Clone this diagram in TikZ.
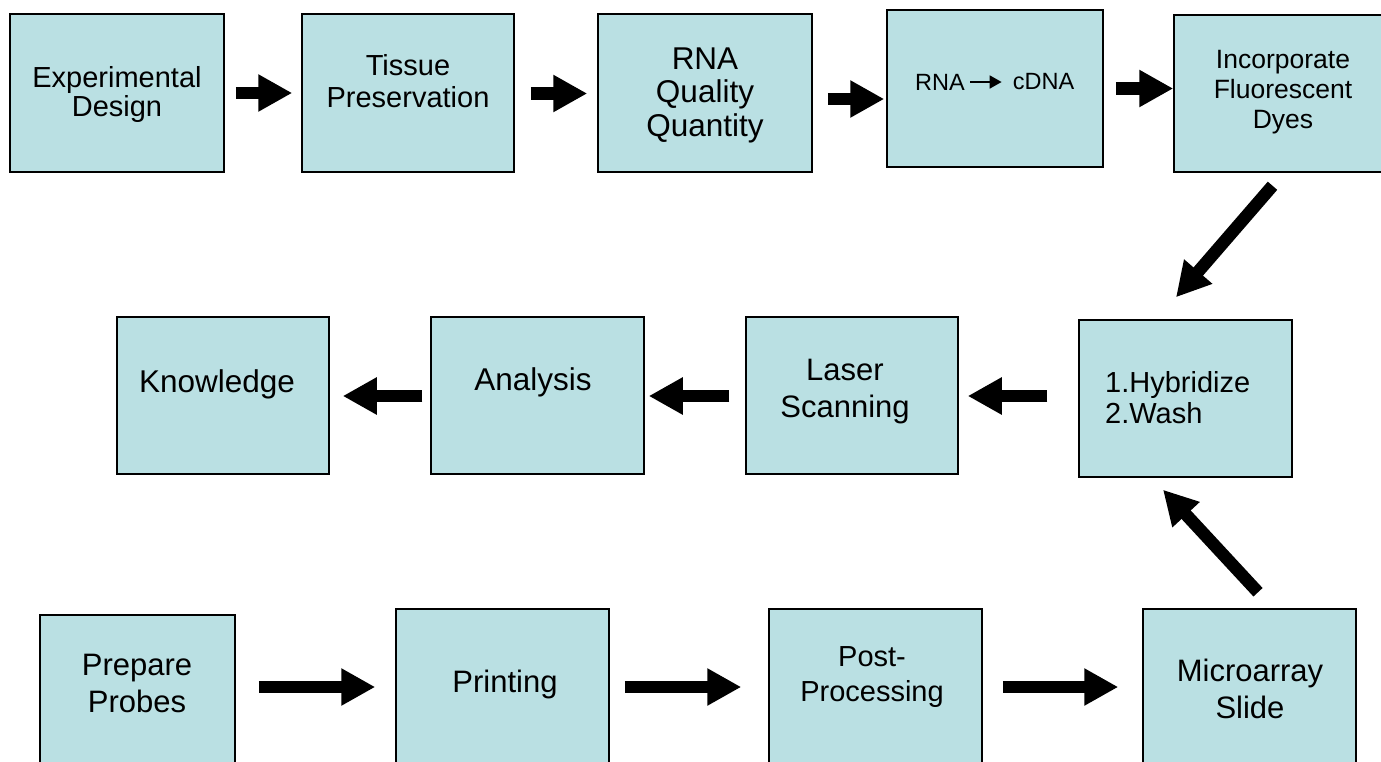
\documentclass[tikz,border=0pt]{standalone}
\usepackage{fontspec}
\setmainfont{Liberation Sans}
\usepackage{tikz}
\usetikzlibrary{arrows.meta}

\definecolor{boxfill}{RGB}{186,224,227}
\newcommand{\fsz}[2]{\fontsize{#1}{#2}\selectfont}

\tikzset{
  box/.style={draw=black, line width=1.5pt, fill=boxfill, minimum width=213pt, minimum height=158pt, inner sep=0pt},
  lbl/.style={inner sep=0pt, align=center},
  blk/.style={line width=12.5pt, -{Triangle[length=34pt,width=35pt]}},
}

\begin{document}
\begin{tikzpicture}[x=1pt, y=-1pt]
\path[use as bounding box] (0,0) rectangle (1381,761);
\fill[white] (0,0) rectangle (1381,761);
\clip (0,0) rectangle (1381,761);

% sample side
\node[box, minimum width=214pt] (ed) at (117,93) {};
\node[box, minimum width=212pt] (tp) at (408,93) {};
\node[box, minimum width=214pt] (rq) at (705,93) {};
\node[box, minimum width=216pt, minimum height=157pt] (cd) at (995,88.5) {};
\node[box, minimum height=157pt] (ic) at (1280.5,93.5) {};

\node[lbl, font=\fsz{29}{29}] (edT) at (117,94) {Experimental\\Design};
\node[lbl, font=\fsz{29}{32}] (tpT) at (408,81) {Tissue\\Preservation};
\node[lbl, font=\fsz{31.5}{33.5}] (rqT) at (705,95) {RNA\\Quality\\Quantity};
\node[lbl, font=\fsz{23.5}{26}] (rnaT) at (940,82) {RNA};
\node[lbl, font=\fsz{23.5}{26}] (cdnaT) at (1043.5,82) {cDNA};
\node[lbl, font=\fsz{26.5}{30}] (icT) at (1283,92.5) {Incorporate\\Fluorescent\\Dyes};

% middle row
\node[box, minimum width=212pt, minimum height=157pt] (kn) at (223,395.5) {};
\node[box, minimum height=157pt] (an) at (537.5,395.5) {};
\node[box, minimum width=212pt, minimum height=157pt] (ls) at (852,395.5) {};
\node[box, minimum height=157pt] (hw) at (1185.5,398.5) {};

\node[lbl, font=\fsz{31.5}{37}] (knT) at (217,384) {Knowledge};
\node[lbl, font=\fsz{31.5}{37}] (anT) at (533,382) {Analysis};
\node[lbl, font=\fsz{31}{37}] (lsT) at (845,391.5) {Laser\\Scanning};
\node[lbl, font=\fsz{29}{31}, align=left, anchor=west] (hwT) at (1105,397.5) {1.Hybridize\\2.Wash};

% array side
\node[box, minimum width=195pt] (pp) at (137.5,694) {};
\node[box] (pr) at (502.5,688) {};
\node[box] (po) at (875.5,688) {};
\node[box] (ma) at (1249.5,688) {};

\node[lbl, font=\fsz{31}{37}] (ppT) at (137,683.5) {Prepare\\Probes};
\node[lbl, font=\fsz{31}{37}] (prT) at (505,684.5) {Printing};
\node[lbl, font=\fsz{29}{35}] (poT) at (872,677.5) {Post-\\Processing};
\node[lbl, font=\fsz{31}{37}] (maT) at (1250,689) {Microarray\\Slide};

\draw[line width=1.8pt, -{Triangle[length=12pt,width=13pt]}, shorten <=5pt, shorten >=11pt] (rnaT) -- (cdnaT);

\draw[blk, shorten <=11pt, shorten >=9pt] (ed.east |- 0,93) -- (tp.west |- 0,93);
\draw[blk, shorten <=16pt, shorten >=10pt] (tp.east |- 0,93.5) -- (rq.west |- 0,93.5);
\draw[blk, shorten <=15pt, shorten >=2pt] (rq.east |- 0,99) -- (cd.west |- 0,99);
\draw[blk, shorten <=12pt] (cd.east |- 0,88.5) -- (ic.west |- 0,88.5);
\draw[blk] ([shift={(-8,13)}]ic.south) -- ([shift={(-9.5,-22)}]hw.north);

\draw[blk, shorten <=31pt, shorten >=9pt] (hw.west |- 0,396) -- (ls.east |- 0,396);
\draw[blk, shorten <=16pt, shorten >=4pt] (ls.west |- 0,396) -- (an.east |- 0,396);
\draw[blk, shorten <=8pt, shorten >=13pt] (an.west |- 0,396) -- (kn.east |- 0,396);

\draw[blk, shorten <=23pt, shorten >=20pt] (pp.east |- 0,687) -- (pr.west |- 0,687);
\draw[blk, shorten <=15pt, shorten >=27pt] (pr.east |- 0,687) -- (po.west |- 0,687);
\draw[blk, shorten <=20pt, shorten >=24pt] (po.east |- 0,687) -- (ma.west |- 0,687);
\draw[blk] ([shift={(8.5,-16)}]ma.north) -- ([shift={(-22.5,12)}]hw.south);
\end{tikzpicture}
\end{document}
